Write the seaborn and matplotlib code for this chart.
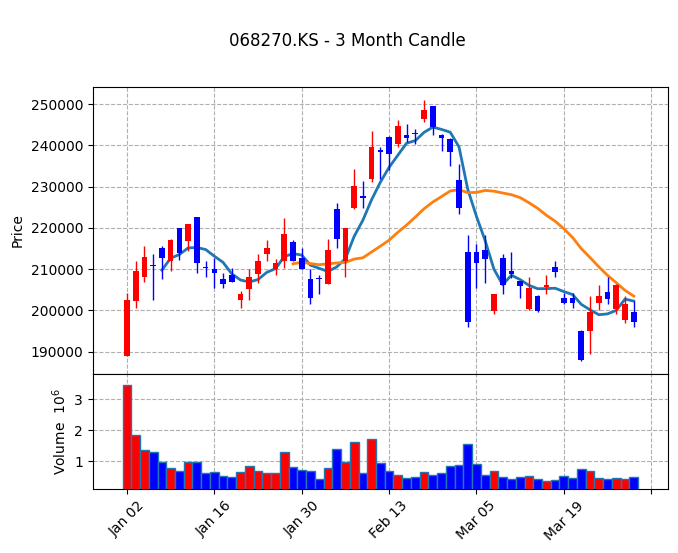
import numpy as np
import pandas as pd
import seaborn as sns
import matplotlib
matplotlib.use("Agg")
import matplotlib.pyplot as plt

# daily OHLC (KRW), Jan 02 .. end of March
opens = [188900, 202400, 208000, 211000, 215200, 211900, 219900, 216900, 222600, 210600,
         210100, 207700, 208500, 202500, 205300, 208900, 213600, 210000, 211900, 216500,
         212800, 207700, 207800, 206500, 224500, 212000, 224900, 227700, 231900, 238800,
         242000, 240400, 242500, 242900, 246500, 249500, 242500, 241500, 231600, 214200,
         214200, 214700, 199800, 212600, 209500, 207200, 200400, 203500, 205600, 210600,
         203000, 203000, 195100, 195100, 201900, 204500, 200400, 197700, 199600]
closes = [202600, 209600, 213000, 210900, 212800, 217100, 214000, 221000, 211400, 210400,
          209000, 206500, 207000, 204000, 208100, 211900, 215200, 211500, 218500, 211900,
          210000, 203000, 207700, 214700, 217400, 219900, 230100, 227300, 239600, 238500,
          238000, 244700, 241900, 242700, 248500, 244400, 241900, 238500, 224900, 197300,
          211400, 212400, 204000, 206100, 208900, 206000, 205500, 199900, 206200, 209400,
          201900, 201900, 188000, 199600, 203500, 202900, 206200, 201600, 197200]
highs = [204200, 212000, 215600, 213600, 215600, 217300, 219900, 221000, 222700, 211900,
         212700, 209000, 210400, 204800, 210000, 213600, 217000, 212400, 222500, 217100,
         215100, 210000, 208600, 217300, 226000, 219900, 234400, 231500, 243500, 239700,
         242300, 246100, 245100, 244000, 251000, 249500, 242700, 241800, 235400, 218300,
         216000, 218300, 204000, 213600, 214100, 207200, 208000, 203800, 208500, 212000,
         204200, 204200, 195300, 203500, 206200, 208000, 206400, 203400, 202400]
lows = [188900, 200600, 207000, 202500, 207600, 209600, 212300, 214500, 209000, 208100,
        205400, 205400, 207000, 200600, 202600, 206600, 212000, 208600, 210400, 211900,
        210000, 201600, 204000, 206500, 215100, 208100, 224500, 224900, 231100, 231800,
        234000, 239500, 240900, 240400, 245700, 242500, 238600, 235000, 223500, 196000,
        205400, 206600, 199100, 204000, 207800, 203000, 200000, 199600, 204000, 208000,
        201500, 200600, 187700, 189400, 200100, 201500, 199100, 196900, 196100]
# volume in millions of shares
volumes = [3.47, 1.83, 1.35, 1.28, 0.96, 0.76, 0.67, 0.96, 0.96, 0.60,
           0.63, 0.50, 0.47, 0.63, 0.83, 0.67, 0.60, 0.60, 1.28, 0.80,
           0.71, 0.67, 0.41, 0.76, 1.38, 0.96, 1.62, 0.60, 1.70, 0.93,
           0.67, 0.54, 0.44, 0.47, 0.63, 0.54, 0.60, 0.83, 0.86, 1.54,
           0.89, 0.54, 0.67, 0.47, 0.41, 0.47, 0.50, 0.41, 0.34, 0.38,
           0.50, 0.44, 0.73, 0.67, 0.44, 0.41, 0.44, 0.41, 0.47]

tick_pos = [0, 10, 20, 30, 40, 50, 60]
tick_labels = ["Jan 02", "Jan 16", "Jan 30", "Feb 13", "Mar 05", "Mar 19", ""]

df = pd.DataFrame({"Open": opens, "High": highs, "Low": lows,
                   "Close": closes, "Volume": volumes})
df["x"] = np.arange(len(df))
df["MA5"] = df["Close"].rolling(5).mean()
df["MA20"] = df["Close"].rolling(20).mean()
colors = np.where(df["Close"] >= df["Open"], "red", "blue")

fig = plt.figure(figsize=(6.78, 5.53), dpi=100)
gs = fig.add_gridspec(2, 1, height_ratios=[287, 115], hspace=0,
                      left=0.137, right=0.985, top=0.843, bottom=0.116)
ax1 = fig.add_subplot(gs[0])
ax2 = fig.add_subplot(gs[1], sharex=ax1)

# moving averages
sns.lineplot(x=df["x"], y=df["MA5"], ax=ax1, color="tab:blue", linewidth=2, zorder=2)
sns.lineplot(x=df["x"], y=df["MA20"], ax=ax1, color="tab:orange", linewidth=2, zorder=2)

# candles
ax1.vlines(df["x"], df["Low"], df["High"], colors=colors, linewidth=1, zorder=3)
body = (df["Close"] - df["Open"]).replace(0, 150)
ax1.bar(df["x"], body, bottom=df["Open"], width=0.65, color=colors, zorder=4)

ax1.set_ylim(184650, 254200)
ax1.set_ylabel("Price")
ax1.set_xlabel("")
ax1.ticklabel_format(axis="y", style="plain", useOffset=False)
ax1.grid(True, linestyle="--")
ax1.tick_params(labelbottom=False)

# volume
ax2.bar(df["x"], df["Volume"], width=1.0, color=colors,
        edgecolor="tab:blue", linewidth=1, zorder=3)
ax2.set_ylim(0.1, 3.82)
ax2.set_yticks([1, 2, 3])
ax2.set_ylabel(r"Volume  $10^{6}$")
ax2.grid(True, linestyle="--")

ax2.set_xlim(-3.9, 61.9)
ax2.set_xticks(tick_pos)
ax2.set_xticklabels(tick_labels, rotation=45)

fig.suptitle("068270.KS - 3 Month Candle", x=0.513, y=0.942)

fig.savefig("out.png", dpi=100)
